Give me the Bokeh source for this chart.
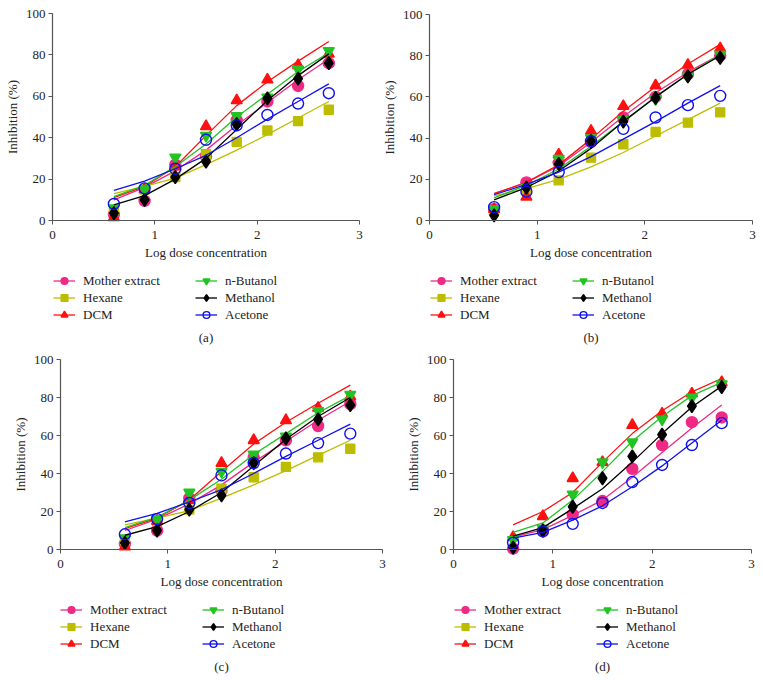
import numpy as np
from bokeh.plotting import figure
from bokeh.models import Range1d, FixedTicker, Legend, LegendItem, Label
from bokeh.layouts import column, row
from bokeh.embed import file_html
from bokeh.resources import INLINE

# ---------------- data ----------------
x_dose = [0.6, 0.9, 1.2, 1.5, 1.8, 2.1, 2.4, 2.7]
series_names = ["Mother extract", "Hexane", "DCM", "n-Butanol", "Methanol", "Acetone"]
x_ticks = [0, 1, 2, 3]
y_ticks = [0, 20, 40, 60, 80, 100]
captions = ["(a)", "(b)", "(c)", "(d)"]

# panel (a) measured points
a_mother = [3, 9.5, 27, 31, 48.5, 57.5, 65, 76]
a_hexane = [5, 15, 21, 32, 38, 43.5, 48, 53.5]
a_dcm = [1.5, 15, 26, 45.5, 58, 68, 75, 80.5]
a_butanol = [6, 15, 30.5, 41, 50.5, 59.5, 73, 82]
a_methanol = [3.5, 10, 21, 28.5, 46.5, 59, 68.5, 76]
a_acetone = [8, 15.5, 25, 39, 46, 51, 56.5, 61.5]
# panel (a) fitted curves
a_fit_mother = [10, 16, 24, 34, 46, 57, 68, 78]
a_fit_hexane = [13, 16.5, 20.5, 27, 34, 41.5, 49.5, 57.5]
a_fit_dcm = [11, 16.5, 26, 41, 55.5, 67, 77, 86.5]
a_fit_butanol = [11.5, 17, 26, 37, 50, 61, 72, 81]
a_fit_methanol = [7.5, 12, 20, 30, 44, 58, 70, 80.5]
a_fit_acetone = [14.5, 19, 25, 31.5, 40, 49, 57.5, 66]

# panel (b)
b_mother = [5.5, 18.5, 28, 38, 50, 60, 71, 80]
b_hexane = [5, 15, 19.5, 30.5, 37, 43, 47.5, 52.5]
b_dcm = [5.5, 11.5, 32, 43.5, 55.5, 65.5, 75.5, 83.5]
b_butanol = [5.5, 16, 30, 40, 49, 59, 70, 80.5]
b_methanol = [2.5, 16, 27.5, 38.5, 48, 59.5, 70, 79]
b_acetone = [6.5, 14, 23.5, 38.5, 44.5, 50, 56, 60.5]
b_fit_mother = [13, 18.5, 26.5, 38, 50.5, 62, 72, 80.5]
b_fit_hexane = [12, 15.5, 20, 26, 33, 41, 49, 57]
b_fit_dcm = [13, 18.5, 27, 39.5, 53, 65, 76, 85.5]
b_fit_butanol = [11, 17, 25, 36, 48, 60, 71, 80.5]
b_fit_methanol = [10, 16, 24, 35, 48, 60, 71, 80]
b_fit_acetone = [12.5, 17.5, 23.5, 31, 39.5, 48, 57, 65.5]

# panel (c)
c_mother = [3, 10, 27, 31, 48.5, 57.5, 65, 76.5]
c_hexane = [5, 15, 21, 32, 38, 43.5, 48.5, 53]
c_dcm = [1.5, 15, 26, 45.5, 57.5, 68, 74.5, 80.5]
c_butanol = [6, 16, 30, 41, 50, 59.5, 73, 81.5]
c_methanol = [3.5, 10, 21, 28.5, 45.5, 58.5, 68.5, 76]
c_acetone = [8, 16, 24.5, 39, 45.5, 50.5, 56, 61]
c_fit_mother = [10, 16, 24, 34, 46, 57, 68, 78]
c_fit_hexane = [13, 16.5, 20.5, 27, 34, 41.5, 49.5, 57.5]
c_fit_dcm = [11, 16.5, 26, 41, 55.5, 67, 77, 86.5]
c_fit_butanol = [11.5, 17, 26, 37, 50, 61, 72, 81]
c_fit_methanol = [7.5, 12, 20, 30, 44, 58, 70, 80]
c_fit_acetone = [14.5, 19, 25, 31.5, 40, 49, 57.5, 66]

# panel (d) (hexane is listed in the legend but has no plotted data)
d_mother = [0.5, 10, 18.5, 25.5, 42.5, 55, 67, 69.5]
d_hexane = []
d_dcm = [6.5, 17.5, 37.5, 46, 65.5, 71.5, 82, 88]
d_butanol = [5, 11, 29, 46, 56.5, 68.5, 80, 87]
d_methanol = [1, 10, 22.5, 37.5, 49, 60.5, 75.5, 85.5]
d_acetone = [3.5, 9.5, 13.5, 24.5, 35.5, 44.5, 55, 66.5]
d_fit_mother = [6.5, 10.5, 18, 26, 38, 51, 64, 76]
d_fit_hexane = []
d_fit_dcm = [13, 20, 30, 46, 61, 73, 83, 90]
d_fit_butanol = [9, 14, 26, 41, 57, 70, 81, 88]
d_fit_methanol = [7, 11.5, 21.5, 32, 46, 61, 75, 86]
d_fit_acetone = [6, 9, 15.5, 23, 33, 44, 56, 68]

panel_points = [
    [a_mother, a_hexane, a_dcm, a_butanol, a_methanol, a_acetone],
    [b_mother, b_hexane, b_dcm, b_butanol, b_methanol, b_acetone],
    [c_mother, c_hexane, c_dcm, c_butanol, c_methanol, c_acetone],
    [d_mother, d_hexane, d_dcm, d_butanol, d_methanol, d_acetone],
]
panel_fits = [
    [a_fit_mother, a_fit_hexane, a_fit_dcm, a_fit_butanol, a_fit_methanol, a_fit_acetone],
    [b_fit_mother, b_fit_hexane, b_fit_dcm, b_fit_butanol, b_fit_methanol, b_fit_acetone],
    [c_fit_mother, c_fit_hexane, c_fit_dcm, c_fit_butanol, c_fit_methanol, c_fit_acetone],
    [d_fit_mother, d_fit_hexane, d_fit_dcm, d_fit_butanol, d_fit_methanol, d_fit_acetone],
]

# ---------------- styles ----------------
colors = ["#EE2A85", "#BDBD00", "#FF1010", "#22C322", "#000000", "#1010EE"]
markers = ["circle", "square", "triangle", "inverted_triangle", "diamond", "circle"]
sizes = [11, 9, 11, 11, 13, 11]
fills = [True, True, True, True, True, False]
FONT = "Liberation Serif"
AXIS_COLOR = "#555555"

# layout geometry in pixels: figure width, figure height,
# x=0 px, x=3 px, y=100 px (from top), y=0 px (from top),
# legend (x, y) from bottom-left, caption y from bottom
geom = [
    (383, 345, 52, 359, 13, 220, 53, 22, 8),
    (379, 345, 46, 369, 14, 220, 47, 22, 8),
    (407, 335, 60, 382, 14, 204, 60, 28, 14),
    (355, 335, 46, 344, 14, 204, 47, 28, 14),
]


def make_panel(i):
    W, H, x0px, x3px, y100px, y0px, lx, ly, cy = geom[i]
    ux = 3.0 / (x3px - x0px)
    uy = 100.0 / (y0px - y100px)
    x_rng = Range1d(-x0px * ux, 3 + (W - x3px) * ux)
    y_rng = Range1d(-(H - y0px) * uy, 100 + y100px * uy)
    p = figure(width=W, height=H, x_range=x_rng, y_range=y_rng,
               min_border_left=0, min_border_right=0,
               min_border_top=0, min_border_bottom=0,
               output_backend="svg", toolbar_location=None)
    p.outline_line_color = None
    p.grid.visible = False
    p.background_fill_color = "white"
    p.border_fill_color = "white"

    for ax in (p.xaxis[0], p.yaxis[0]):
        ax.fixed_location = 0
        ax.axis_line_color = AXIS_COLOR
        ax.major_tick_line_color = AXIS_COLOR
        ax.minor_tick_line_color = None
        ax.major_tick_in = 0
        ax.major_tick_out = 4
        ax.major_label_text_font = FONT
        ax.major_label_text_font_size = "13px"
        ax.major_label_text_color = "#222222"
        ax.axis_label_text_font = FONT
        ax.axis_label_text_font_size = "13px"
        ax.axis_label_text_font_style = "normal"
        ax.axis_label_text_color = "#222222"
        ax.axis_line_width = 1.2
    p.xaxis[0].ticker = FixedTicker(ticks=x_ticks)
    p.yaxis[0].ticker = FixedTicker(ticks=y_ticks)
    p.xaxis[0].bounds = (0, 3)
    p.yaxis[0].bounds = (0, 100)
    p.xaxis[0].axis_label = "Log dose concentration"
    p.yaxis[0].axis_label = "Inhibition (%)"
    p.xaxis[0].major_label_standoff = 6
    p.xaxis[0].axis_label_standoff = 3
    p.yaxis[0].major_label_standoff = 3
    p.yaxis[0].axis_label_standoff = 3

    items = []
    for k, name in enumerate(series_names):
        pts = panel_points[i][k] or [np.nan]
        fit = panel_fits[i][k] or [np.nan]
        lr = p.line(x_dose[:len(fit)], fit, line_color=colors[k], line_width=1.3)
        sr = p.scatter(x_dose[:len(pts)], pts, marker=markers[k], size=sizes[k],
                       line_color=colors[k], line_width=1.4,
                       fill_color=colors[k] if fills[k] else None)
        items.append(LegendItem(label=name, renderers=[lr, sr]))

    leg = Legend(items=items, ncols=2, location=(lx, ly),
                 border_line_color=None, background_fill_alpha=0,
                 label_text_font=FONT, label_text_font_size="13px",
                 label_text_color="#222222",
                 glyph_width=22, glyph_height=17, label_height=17,
                 label_standoff=8, label_width=112, spacing=0,
                 padding=0, margin=0)
    p.add_layout(leg, "center")
    cap = Label(x=1.5, y=cy, x_units="data", y_units="screen", text=captions[i],
                text_align="center", text_baseline="middle", text_font=FONT,
                text_font_size="13px", text_color="#222222")
    p.add_layout(cap)
    return p


panels = [make_panel(i) for i in range(4)]
layout = column(row(panels[0], panels[1]), row(panels[2], panels[3]))

open("out.html", "w").write(file_html(layout, INLINE))
